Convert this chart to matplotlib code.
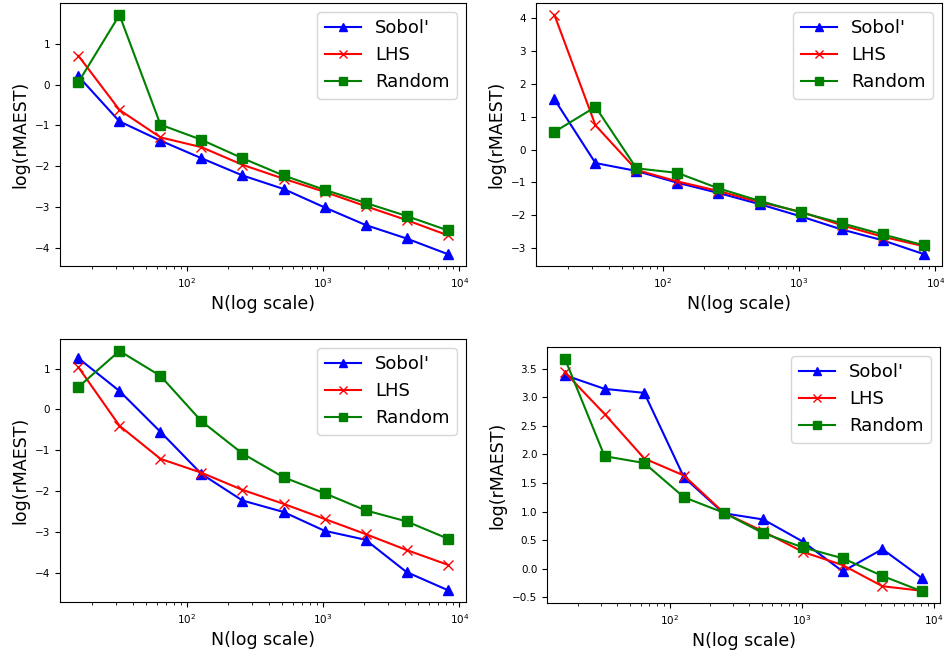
import matplotlib
matplotlib.use("Agg")
import matplotlib.pyplot as plt

N = [16, 32, 64, 128, 256, 512, 1024, 2048, 4096, 8192]

tl_sobol = [0.20, -0.90, -1.37, -1.80, -2.22, -2.55, -3.00, -3.43, -3.76, -4.14]
tl_lhs = [0.70, -0.62, -1.29, -1.53, -1.96, -2.30, -2.62, -2.97, -3.31, -3.68]
tl_random = [0.06, 1.70, -0.98, -1.35, -1.80, -2.22, -2.57, -2.89, -3.21, -3.56]

tr_sobol = [1.53, -0.41, -0.65, -1.01, -1.32, -1.66, -2.03, -2.43, -2.76, -3.18]
tr_lhs = [4.10, 0.74, -0.62, -0.97, -1.26, -1.60, -1.89, -2.30, -2.65, -2.94]
tr_random = [0.54, 1.30, -0.57, -0.71, -1.18, -1.56, -1.91, -2.24, -2.58, -2.91]

bl_sobol = [1.25, 0.45, -0.55, -1.58, -2.23, -2.51, -2.97, -3.19, -3.98, -4.42]
bl_lhs = [1.03, -0.40, -1.21, -1.55, -1.97, -2.31, -2.68, -3.05, -3.44, -3.80]
bl_random = [0.55, 1.43, 0.82, -0.29, -1.08, -1.66, -2.05, -2.47, -2.74, -3.16]

br_sobol = [3.39, 3.15, 3.08, 1.60, 0.97, 0.86, 0.47, -0.05, 0.34, -0.17]
br_lhs = [3.44, 2.71, 1.93, 1.63, 0.98, 0.65, 0.29, 0.06, -0.31, -0.39]
br_random = [3.68, 1.97, 1.85, 1.25, 0.98, 0.62, 0.37, 0.18, -0.13, -0.40]

labels = ["Sobol'", "LHS", "Random"]

W, H = 944, 659
fig = plt.figure(figsize=(W / 100, H / 100), dpi=100)

def rect(x0, y0, x1, y1):
    return [x0 / W, 1 - y1 / H, (x1 - x0) / W, (y1 - y0) / H]

panels = [
    (rect(60, 3, 466, 266), tl_sobol, tl_lhs, tl_random),
    (rect(536, 3, 942, 266), tr_sobol, tr_lhs, tr_random),
    (rect(60, 339, 466, 602), bl_sobol, bl_lhs, bl_random),
    (rect(547, 347, 940, 603), br_sobol, br_lhs, br_random),
]

for r, s, l, rnd in panels:
    ax = fig.add_axes(r)
    ax.plot(N, s, color='b', marker='^', markersize=6.5, linewidth=1.5, label=labels[0])
    ax.plot(N, l, color='r', marker='x', markersize=6.5, linewidth=1.5, label=labels[1])
    ax.plot(N, rnd, color='g', marker='s', markersize=6.5, linewidth=1.5, label=labels[2])
    ax.set_xscale('log')
    ax.tick_params(labelsize=7.5)
    ax.set_xlabel('N(log scale)', fontsize=12.5)
    ax.set_ylabel('log(rMAEST)', fontsize=12.5)
    ax.legend(loc='upper right', fontsize=13, markerscale=0.8)

fig.savefig('out.png', dpi=100)
